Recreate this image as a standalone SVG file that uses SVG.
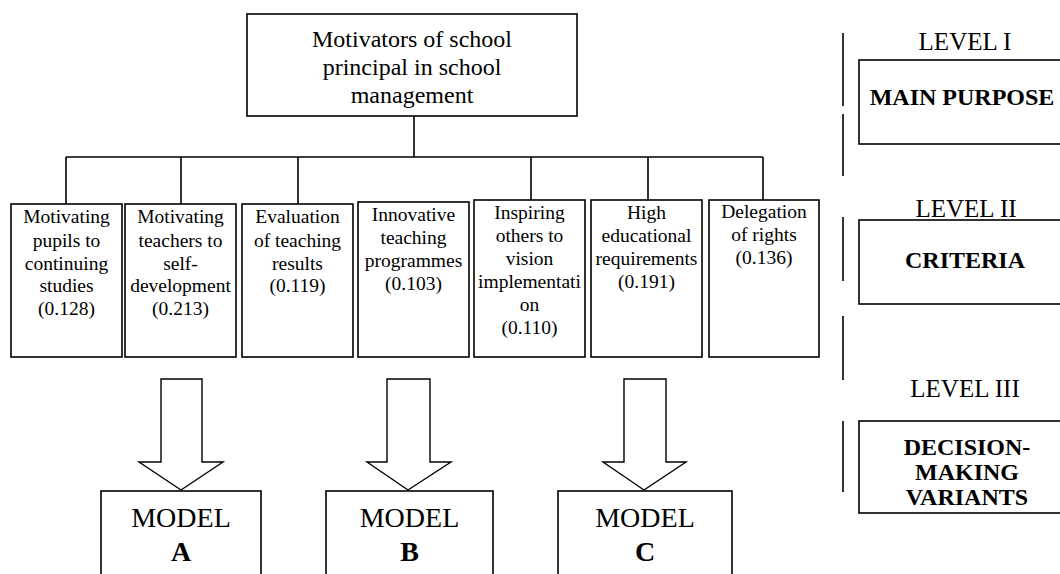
<svg xmlns="http://www.w3.org/2000/svg" width="1060" height="574" viewBox="0 0 1060 574" font-family="Liberation Serif, DejaVu Serif, serif">
<style>
.box{fill:#fff;stroke:#000;stroke-width:1.6}
.ln{stroke:#000;stroke-width:1.6;fill:none}
.arr{fill:#fff;stroke:#000;stroke-width:1.4;stroke-linejoin:miter}
.c{font-size:19.5px;text-anchor:middle}
.t{font-size:24px;text-anchor:middle}
.lv{font-size:25px;text-anchor:middle}
.b{font-size:24px;font-weight:bold;text-anchor:middle}
.m{font-size:28px;text-anchor:middle}
.mb{font-size:28px;font-weight:bold;text-anchor:middle}
</style>
<rect width="1060" height="574" fill="#fff"/>
<g id="connectors">
<line class="ln" x1="414" y1="116" x2="414" y2="157"/>
<line class="ln" x1="66" y1="157" x2="763" y2="157"/>
<line class="ln" x1="66" y1="157" x2="66" y2="204"/>
<line class="ln" x1="181" y1="157" x2="181" y2="204"/>
<line class="ln" x1="298" y1="157" x2="298" y2="204"/>
<line class="ln" x1="531" y1="157" x2="531" y2="200"/>
<line class="ln" x1="648" y1="157" x2="648" y2="200"/>
<line class="ln" x1="763" y1="157" x2="763" y2="200"/>
<polygon class="arr" points="161,379 202,379 202,462 223,462 181,490 139,462 161,462"/>
<polygon class="arr" points="387,379 430,379 430,462 451,462 408,490 367,462 387,462"/>
<polygon class="arr" points="624,379 666,379 666,462 686,462 644,490 603,462 624,462"/>
</g>
<g id="level-lines">
<line class="ln" x1="843" y1="33" x2="843" y2="106"/>
<line class="ln" x1="843" y1="114" x2="843" y2="176"/>
<line class="ln" x1="843" y1="217" x2="843" y2="281"/>
<line class="ln" x1="843" y1="316" x2="843" y2="380"/>
<line class="ln" x1="843" y1="421" x2="843" y2="492"/>
</g>
<g id="goal">
<rect class="box" x="247" y="14" width="330" height="102"/>
<text class="t" x="412" y="47">Motivators of school</text>
<text class="t" x="412" y="75">principal in school</text>
<text class="t" x="412" y="103">management</text>
</g>
<g id="c1">
<rect class="box" x="11" y="204" width="111" height="153"/>
<text class="c" x="66.5" y="223">Motivating</text>
<text class="c" x="66.5" y="247">pupils to</text>
<text class="c" x="66.5" y="270">continuing</text>
<text class="c" x="66.5" y="292">studies</text>
<text class="c" x="66.5" y="315">(0.128)</text>
</g>
<g id="c2">
<rect class="box" x="125" y="204" width="111" height="153"/>
<text class="c" x="180.5" y="223">Motivating</text>
<text class="c" x="180.5" y="247">teachers to</text>
<text class="c" x="180.5" y="270">self-</text>
<text class="c" x="180.5" y="292">development</text>
<text class="c" x="180.5" y="315">(0.213)</text>
</g>
<g id="c3">
<rect class="box" x="242" y="204" width="111" height="153"/>
<text class="c" x="297.5" y="223">Evaluation</text>
<text class="c" x="297.5" y="247">of teaching</text>
<text class="c" x="297.5" y="270">results</text>
<text class="c" x="297.5" y="292">(0.119)</text>
</g>
<g id="c4">
<rect class="box" x="358" y="202" width="111" height="155"/>
<text class="c" x="413.5" y="221">Innovative</text>
<text class="c" x="413.5" y="244">teaching</text>
<text class="c" x="413.5" y="267">programmes</text>
<text class="c" x="413.5" y="290">(0.103)</text>
</g>
<g id="c5">
<rect class="box" x="474" y="200" width="111" height="157"/>
<text class="c" x="529.5" y="219">Inspiring</text>
<text class="c" x="529.5" y="242">others to</text>
<text class="c" x="529.5" y="265">vision</text>
<text class="c" x="529.5" y="288">implementati</text>
<text class="c" x="529.5" y="311">on</text>
<text class="c" x="529.5" y="334">(0.110)</text>
</g>
<g id="c6">
<rect class="box" x="591" y="200" width="111" height="157"/>
<text class="c" x="646.5" y="219">High</text>
<text class="c" x="646.5" y="242">educational</text>
<text class="c" x="646.5" y="265">requirements</text>
<text class="c" x="646.5" y="288">(0.191)</text>
</g>
<g id="c7">
<rect class="box" x="709" y="200" width="110" height="157"/>
<text class="c" x="764" y="218">Delegation</text>
<text class="c" x="764" y="241">of rights</text>
<text class="c" x="764" y="264">(0.136)</text>
</g>
<g id="modelA">
<rect class="box" x="101" y="491" width="160" height="100"/>
<text class="m" x="181" y="527">MODEL</text>
<text class="mb" x="181" y="561">A</text>
</g>
<g id="modelB">
<rect class="box" x="326" y="491" width="167" height="100"/>
<text class="m" x="409.5" y="527">MODEL</text>
<text class="mb" x="409.5" y="561">B</text>
</g>
<g id="modelC">
<rect class="box" x="558" y="491" width="174" height="100"/>
<text class="m" x="645" y="527">MODEL</text>
<text class="mb" x="645" y="561">C</text>
</g>
<g id="level1">
<text class="lv" x="965" y="50">LEVEL I</text>
<rect class="box" x="859" y="60" width="220" height="84"/>
<text class="b" x="962" y="105">MAIN PURPOSE</text>
</g>
<g id="level2">
<text class="lv" x="966" y="217">LEVEL II</text>
<rect class="box" x="859" y="220" width="220" height="84"/>
<text class="b" x="965" y="268">CRITERIA</text>
</g>
<g id="level3">
<text class="lv" x="965" y="397">LEVEL III</text>
<rect class="box" x="859" y="421" width="220" height="92"/>
<text class="b" x="967" y="455">DECISION-</text>
<text class="b" x="967" y="480">MAKING</text>
<text class="b" x="967" y="505">VARIANTS</text>
</g>
</svg>
